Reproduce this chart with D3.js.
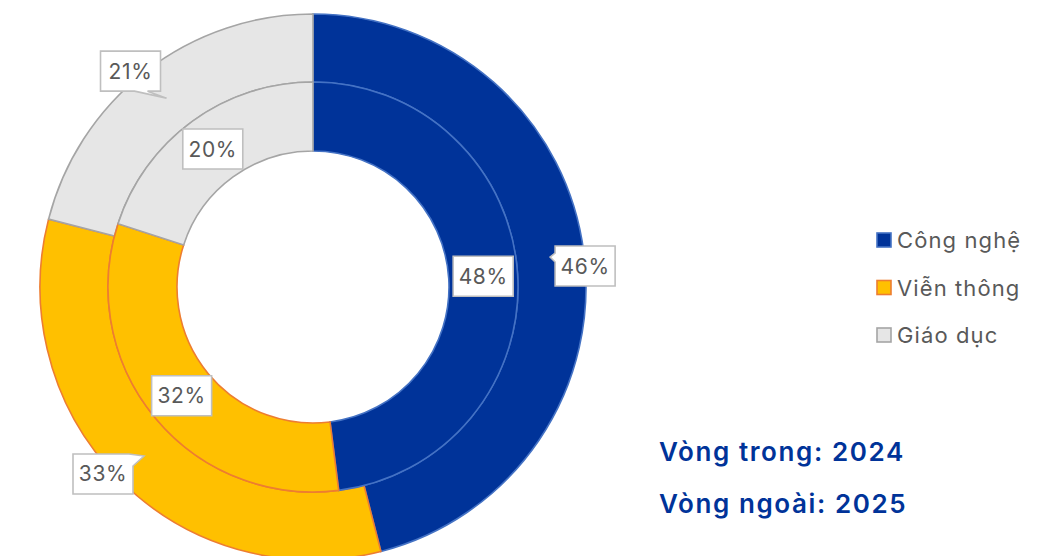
<!DOCTYPE html>
<html><head><meta charset="utf-8">
<script src="https://cdn.jsdelivr.net/npm/d3@7"></script>
<style>body{margin:0;background:#fff;}svg{display:block;font-family:Inter,"Noto Sans",sans-serif;}</style>
</head><body>
<svg id="c" width="1062" height="556"></svg>
<script>
const categories = ["Công nghệ", "Viễn thông", "Giáo dục"];
const values2024 = [48, 32, 20];   // inner ring
const values2025 = [46, 33, 21];   // outer ring
const ringTitles = ["Vòng trong: 2024", "Vòng ngoài: 2025"];

const fills = ["#003399", "#FFC000", "#E6E6E6"];
const strokes = ["#4472C4", "#ED7D31", "#A5A5A5"];

const svg = d3.select("#c");
const cx = 313, cy = 287;
const r0 = 136, r1 = 205, r2 = 273;

const pie = d3.pie().sort(null).value(d => d);
const color = d3.scaleOrdinal().domain(categories).range(fills);
const strokeC = d3.scaleOrdinal().domain(categories).range(strokes);

const g = svg.append("g").attr("transform", `translate(${cx},${cy})`);
const arcIn = d3.arc().innerRadius(r0).outerRadius(r1);
const arcOut = d3.arc().innerRadius(r1).outerRadius(r2);

const inner = pie(values2024);
const outer = pie(values2025);

g.selectAll("path.out").data(outer).join("path").attr("class","out")
  .attr("d", arcOut).attr("fill", (d,i)=>color(categories[i]))
  .attr("stroke", (d,i)=>strokeC(categories[i])).attr("stroke-width", 1.6);
g.selectAll("path.in").data(inner).join("path").attr("class","in")
  .attr("d", arcIn).attr("fill", (d,i)=>color(categories[i]))
  .attr("stroke", (d,i)=>strokeC(categories[i])).attr("stroke-width", 1.6);

const labelArcIn = d3.arc().innerRadius((r0+r1)/2).outerRadius((r0+r1)/2);
const labelArcOut = d3.arc().innerRadius((r1+r2)/2).outerRadius((r1+r2)/2);

const BW = 60, BH = 40;
function boxPath(x, y, ptr) {
  const L = x, T = y, R = x + BW, B = y + BH;
  let pts = [];
  if (!ptr) pts = [[L,T],[R,T],[R,B],[L,B]];
  else if (ptr.side === "left") pts = [[L,T],[R,T],[R,B],[L,B],[L,T+ptr.b],ptr.tip,[L,T+ptr.a]];
  else if (ptr.side === "bottom") pts = [[L,T],[R,T],[R,B],[L+ptr.b,B],ptr.tip,[L+ptr.a,B],[L,B]];
  else if (ptr.side === "topright") pts = [[L,T],[R-ptr.a,T],ptr.tip,[R,T+ptr.b],[R,B],[L,B]];
  return "M" + pts.map(p => p.join(",")).join("L") + "Z";
}

function drawLabel(cxL, cyL, text, ptr) {
  const x = cxL - BW/2, y = cyL - BH/2;
  svg.append("path").attr("d", boxPath(x, y, ptr))
    .attr("fill", "#fff").attr("stroke", "#BFBFBF").attr("stroke-width", 1.6);
  svg.append("text").attr("x", cxL).attr("y", cyL + 7.5).attr("text-anchor", "middle")
    .attr("font-size", 21).attr("letter-spacing", 0.6).attr("fill", "#595959").text(text);
}

inner.forEach((d, i) => {
  const [x, y] = labelArcIn.centroid(d);
  drawLabel(cx + x, cy + y, values2024[i] + "%");
});

const outerOffsets = [
  {dx: 35, dy: 9, side: "left", a: 7, b: 16},
  {dx: -41, dy: 18, side: "topright", a: 4, b: 12},
  {dx: -36, dy: -27, side: "bottom", a: 34, b: 47}
];
outer.forEach((d, i) => {
  const [x, y] = labelArcOut.centroid(d);
  const tx = cx + x, ty = cy + y;
  const o = outerOffsets[i];
  drawLabel(tx + o.dx, ty + o.dy, values2025[i] + "%", {side: o.side, a: o.a, b: o.b, tip: [tx, ty]});
});

// legend
const leg = svg.append("g").attr("transform", "translate(876,240)");
const ly = d3.scalePoint().domain(categories).range([0, 95]);
categories.forEach((c) => {
  leg.append("rect").attr("x", 1).attr("y", ly(c) - 7).attr("width", 14).attr("height", 14)
    .attr("fill", color(c)).attr("stroke", strokeC(c)).attr("stroke-width", 1.6);
  leg.append("text").attr("x", 21).attr("y", ly(c) + 8).attr("font-size", 22)
    .attr("letter-spacing", 1.1).attr("fill", "#595959").text(c);
});

// ring titles
ringTitles.forEach((t, i) => {
  svg.append("text").attr("x", 659).attr("y", 461 + i * 52).attr("font-size", 26)
    .attr("font-weight", 600).attr("letter-spacing", 1.6).attr("fill", "#003399").text(t);
});
</script>
</body></html>
